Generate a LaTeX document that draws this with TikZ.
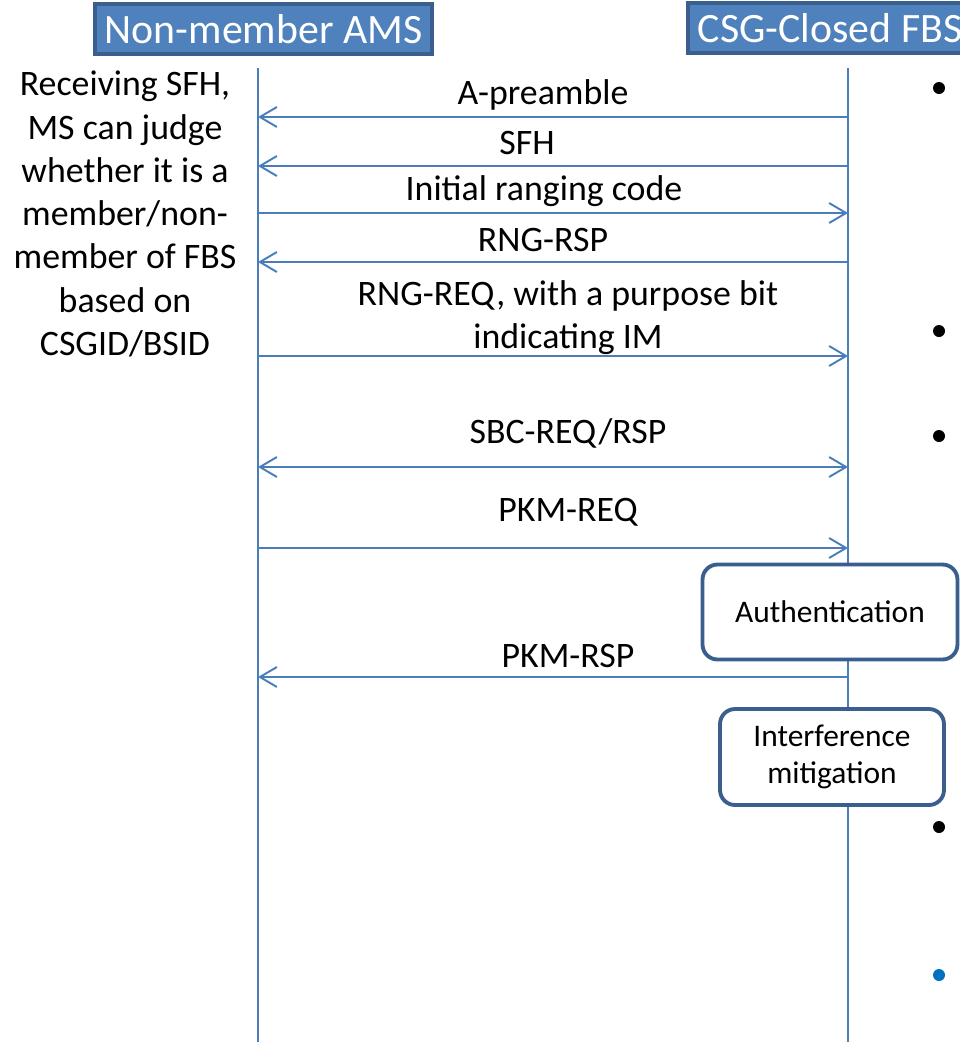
\documentclass[tikz,border=0pt]{standalone}
\usepackage{fontspec}
\setmainfont{Carlito}
\usetikzlibrary{arrows.meta}
\definecolor{hdrblue}{HTML}{4F81BD}
\definecolor{hdredge}{HTML}{3A5F8E}
\definecolor{lineblue}{HTML}{4A7EBB}
\definecolor{dotblue}{HTML}{0070C0}

\tikzset{
  header/.style={fill=hdrblue, draw=hdredge, line width=2.2pt, text=white,
    font=\fontsize{23.8}{28}\selectfont, inner xsep=0.2cm, minimum height=1cm},
  lifeline/.style={draw=lineblue, line width=1.1pt},
  msg/.style={draw=lineblue, line width=1.1pt,
    -{Straight Barb[length=0.34cm,width=0.4cm,line width=1.1pt]}},
  twoway/.style={msg, {Straight Barb[length=0.34cm,width=0.4cm,line width=1.1pt]}-{Straight Barb[length=0.34cm,width=0.4cm,line width=1.1pt]}},
  lbl/.style={font=\fontsize{20.4}{24.6}\selectfont, align=center, inner sep=0pt},
  procbox/.style={draw=hdredge, line width=2.2pt, fill=white, rounded corners=0.3cm,
    align=center, font=\fontsize{17.9}{21}\selectfont}
}

\begin{document}
\begin{tikzpicture}[x=0.02cm,y=-0.02cm]
\useasboundingbox (0,0) rectangle (960,1042);
\clip (0,0) rectangle (960,1042);

% headers
\node[header] (amshdr) at (263.5,29) {Non-member AMS};
\node[header, anchor=west] (fbshdr) at (686,28) {CSG-Closed FBS};

% lifelines
\coordinate (ams-top) at (258,68);
\coordinate (ams-bot) at (258,1042);
\coordinate (fbs-top) at (848,68);
\coordinate (fbs-bot) at (848,1042);
\draw[lifeline] (ams-top) -- (ams-bot);
\draw[lifeline] (fbs-top) -- (fbs-bot);

\foreach \m/\y in {pre/117,sfh/166,irc/213,rsp/262,req/356,sbc/467,pkmq/548,pkms/677}{
  \coordinate (ams-\m) at (258,\y);
  \coordinate (fbs-\m) at (848,\y);
}

% messages
\draw[msg] (fbs-pre) -- (ams-pre);
\node[lbl] (prelbl) at (543,95) {A-preamble};
\draw[msg] (fbs-sfh) -- (ams-sfh);
\node[lbl] (sfhlbl) at (527,143) {SFH};
\draw[msg] (ams-irc) -- (fbs-irc);
\node[lbl] (irclbl) at (544,191) {Initial ranging code};
\draw[msg] (fbs-rsp) -- (ams-rsp);
\node[lbl] (rsplbl) at (543,240) {RNG-RSP};
\draw[msg] (ams-req) -- (fbs-req);
\node[lbl] (reqlbl) at (568,318) {RNG-REQ, with a purpose bit\\indicating IM};
\draw[twoway] (ams-sbc) -- (fbs-sbc);
\node[lbl] (sbclbl) at (568,433) {SBC-REQ/RSP};
\draw[msg] (ams-pkmq) -- (fbs-pkmq);
\node[lbl] (pkmqlbl) at (568,512) {PKM-REQ};
\draw[msg] (fbs-pkms) -- (ams-pkms);
\node[lbl] (pkmslbl) at (568,656) {PKM-RSP};

% boxes on the FBS side
\node[procbox, minimum width=5.1cm, minimum height=1.9cm] (auth) at (830,612) {Authentication};
\node[procbox, minimum width=4.48cm, minimum height=1.92cm] (im) at (832,757) {Interference\\mitigation};

% note on the left
\node[lbl] (note) at (125,214) {Receiving SFH,\\MS can judge\\whether it is a\\member/non-\\member of FBS\\based on\\CSGID/BSID};

% bullets
\foreach \y in {88,331,436,827}
  \fill (939,\y) circle [radius=0.12cm];
\fill[dotblue] (939,975) circle [radius=0.12cm];
\end{tikzpicture}
\end{document}
